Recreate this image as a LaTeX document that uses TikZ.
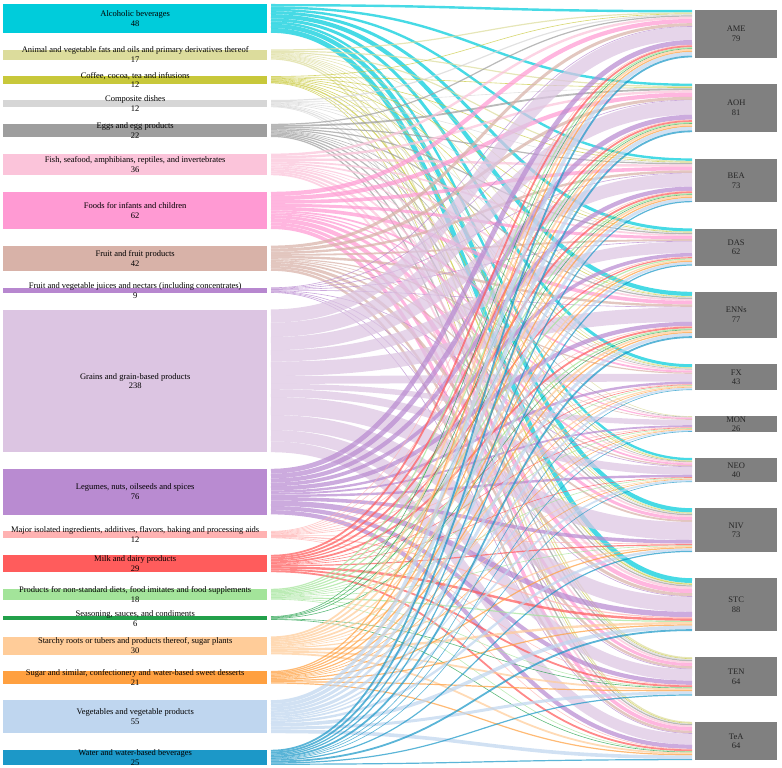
\documentclass[tikz,border=0pt]{standalone}
\usepackage{fontspec}
\setmainfont{Liberation Serif}
\definecolor{c0}{HTML}{00CCDB}
\definecolor{c1}{HTML}{DCDC9C}
\definecolor{c2}{HTML}{C8C83A}
\definecolor{c3}{HTML}{D6D6D6}
\definecolor{c4}{HTML}{9E9E9E}
\definecolor{c5}{HTML}{FBC4DA}
\definecolor{c6}{HTML}{FF9AD3}
\definecolor{c7}{HTML}{D8B2A8}
\definecolor{c8}{HTML}{B787CF}
\definecolor{c9}{HTML}{DCC5E2}
\definecolor{c10}{HTML}{B98BD1}
\definecolor{c11}{HTML}{FFB2B2}
\definecolor{c12}{HTML}{FF5C5C}
\definecolor{c13}{HTML}{A3E49A}
\definecolor{c14}{HTML}{22A04A}
\definecolor{c15}{HTML}{FFCC99}
\definecolor{c16}{HTML}{FFA040}
\definecolor{c17}{HTML}{BFD6EF}
\definecolor{c18}{HTML}{1C98C8}
\definecolor{rgray}{HTML}{808080}
\tikzset{
  lbar/.style={rectangle, draw=none, inner sep=0pt, minimum width=264pt, anchor=north west},
  rbar/.style={rectangle, draw=none, fill=rgray, inner sep=0pt, minimum width=82pt, anchor=north west},
  ltxt/.style={font=\fontsize{8.5}{9.8}\selectfont, align=center, inner sep=0pt, text=black},
  rtxt/.style={font=\fontsize{8.5}{9.8}\selectfont, align=center, inner sep=0pt, text=black!85},
  flow/.style={opacity=.72}
}
\def\M{{4,4,4,5,7,5,0,4,7,8,0,0,
2,2,2,1,1,1,1,1,1,1,2,2,
1,1,1,1,1,1,0,1,1,2,1,1,
2,1,1,1,1,1,0,0,1,1,2,1,
2,3,2,2,2,1,1,1,2,2,2,2,
4,4,4,3,3,2,1,2,3,4,3,3,
7,7,6,5,6,3,2,3,5,7,5,6,
5,5,4,3,4,2,1,2,3,5,4,4,
1,1,1,1,1,0,0,1,0,1,1,1,
22,24,22,19,24,13,9,13,30,25,19,18,
8,8,7,6,7,4,3,4,6,9,7,7,
1,1,1,1,1,1,1,0,1,2,1,1,
3,3,3,2,3,1,1,1,2,4,3,3,
2,2,2,2,2,1,1,1,1,2,1,1,
1,1,1,0,1,0,0,0,0,0,1,1,
3,3,3,2,3,2,1,1,2,4,3,3,
2,2,2,2,2,1,1,1,2,2,2,2,
6,6,5,4,5,3,2,3,4,6,5,6,
3,3,2,2,3,1,1,1,2,3,2,2}}
\def\LT{{4,49.4,76.2,100,123.8,153.6,191.8,245.6,287.4,309.4,468.8,531,554.8,588.8,616.2,636.4,671,700.2,749.8}}
\begin{document}
\begin{tikzpicture}[x=1pt,y=-1pt]
\useasboundingbox (0,0) rectangle (782,768);
% target offsets
\foreach \jj/\tp in {0/10,1/83.6,2/158.4,3/228.4,4/291.8,5/364.2,6/416.2,7/458,8/508.2,9/578.2,10/657.2,11/721.8}{
  \expandafter\xdef\csname tof\jj\endcsname{\tp}}
% flows
\foreach \i in {0,...,18}{
  \pgfmathsetmacro\st{\LT[\i]}
  \xdef\srcoff{\st}
  \foreach \j in {0,...,11}{
    \pgfmathsetmacro\vv{\M[\i*12+\j]}
    \ifdim\vv pt>0pt
      \edef\cur{\csname tof\j\endcsname}
      \pgfmathsetmacro\ww{0.6*\vv}
      \pgfmathsetmacro\sy{\srcoff+\ww/2}
      \pgfmathsetmacro\ty{\cur+\ww/2}
      \coordinate (s\i-\j) at (271,\sy);
      \coordinate (t\i-\j) at (692,\ty);
      \draw[flow, line width=\ww pt, draw=c\i] (s\i-\j) .. controls +(210.5,0) and +(-210.5,0) .. (t\i-\j);
      \pgfmathsetmacro\nso{\srcoff+\ww}\xdef\srcoff{\nso}
      \pgfmathsetmacro\nto{\cur+\ww}\expandafter\xdef\csname tof\j\endcsname{\nto}
    \fi
  }
}
% left nodes
\node[lbar, fill=c0, minimum height=28.8pt] (L0) at (3,4) {};
\node[lbar, fill=c1, minimum height=10.2pt] (L1) at (3,49.4) {};
\node[lbar, fill=c2, minimum height=7.2pt] (L2) at (3,76.2) {};
\node[lbar, fill=c3, minimum height=7.2pt] (L3) at (3,100) {};
\node[lbar, fill=c4, minimum height=13.2pt] (L4) at (3,123.8) {};
\node[lbar, fill=c5, minimum height=21.6pt] (L5) at (3,153.6) {};
\node[lbar, fill=c6, minimum height=37.2pt] (L6) at (3,191.8) {};
\node[lbar, fill=c7, minimum height=25.2pt] (L7) at (3,245.6) {};
\node[lbar, fill=c8, minimum height=5.4pt] (L8) at (3,287.4) {};
\node[lbar, fill=c9, minimum height=142.8pt] (L9) at (3,309.4) {};
\node[lbar, fill=c10, minimum height=45.6pt] (L10) at (3,468.8) {};
\node[lbar, fill=c11, minimum height=7.2pt] (L11) at (3,531) {};
\node[lbar, fill=c12, minimum height=17.4pt] (L12) at (3,554.8) {};
\node[lbar, fill=c13, minimum height=10.8pt] (L13) at (3,588.8) {};
\node[lbar, fill=c14, minimum height=3.6pt] (L14) at (3,616.2) {};
\node[lbar, fill=c15, minimum height=18pt] (L15) at (3,636.4) {};
\node[lbar, fill=c16, minimum height=12.6pt] (L16) at (3,671) {};
\node[lbar, fill=c17, minimum height=33pt] (L17) at (3,700.2) {};
\node[lbar, fill=c18, minimum height=15pt] (L18) at (3,749.8) {};
\node[ltxt] (T0) at (L0.center) {Alcoholic beverages\\48};
\node[ltxt] (T1) at (L1.center) {Animal and vegetable fats and oils and primary derivatives thereof\\17};
\node[ltxt] (T2) at (L2.center) {Coffee, cocoa, tea and infusions\\12};
\node[ltxt] (T3) at (L3.center) {Composite dishes\\12};
\node[ltxt] (T4) at (L4.center) {Eggs and egg products\\22};
\node[ltxt] (T5) at (L5.center) {Fish, seafood, amphibians, reptiles, and invertebrates\\36};
\node[ltxt] (T6) at (L6.center) {Foods for infants and children\\62};
\node[ltxt] (T7) at (L7.center) {Fruit and fruit products\\42};
\node[ltxt] (T8) at (L8.center) {Fruit and vegetable juices and nectars (including concentrates)\\9};
\node[ltxt] (T9) at (L9.center) {Grains and grain-based products\\238};
\node[ltxt] (T10) at (L10.center) {Legumes, nuts, oilseeds and spices\\76};
\node[ltxt] (T11) at (L11.center) {Major isolated ingredients, additives, flavors, baking and processing aids\\12};
\node[ltxt] (T12) at (L12.center) {Milk and dairy products\\29};
\node[ltxt] (T13) at (L13.center) {Products for non-standard diets, food imitates and food supplements\\18};
\node[ltxt] (T14) at (L14.center) {Seasoning, sauces, and condiments\\6};
\node[ltxt] (T15) at (L15.center) {Starchy roots or tubers and products thereof, sugar plants\\30};
\node[ltxt] (T16) at (L16.center) {Sugar and similar, confectionery and water-based sweet desserts\\21};
\node[ltxt] (T17) at (L17.center) {Vegetables and vegetable products\\55};
\node[ltxt] (T18) at (L18.center) {Water and water-based beverages\\25};
% right nodes
\node[rbar, minimum height=47.4pt] (R0) at (695,10) {};
\node[rbar, minimum height=48.6pt] (R1) at (695,83.6) {};
\node[rbar, minimum height=43.8pt] (R2) at (695,158.4) {};
\node[rbar, minimum height=37.2pt] (R3) at (695,228.4) {};
\node[rbar, minimum height=46.2pt] (R4) at (695,291.8) {};
\node[rbar, minimum height=25.8pt] (R5) at (695,364.2) {};
\node[rbar, minimum height=15.6pt] (R6) at (695,416.2) {};
\node[rbar, minimum height=24pt] (R7) at (695,458) {};
\node[rbar, minimum height=43.8pt] (R8) at (695,508.2) {};
\node[rbar, minimum height=52.8pt] (R9) at (695,578.2) {};
\node[rbar, minimum height=38.4pt] (R10) at (695,657.2) {};
\node[rbar, minimum height=38.4pt] (R11) at (695,721.8) {};
\node[rtxt] (U0) at (R0.center) {AME\\79};
\node[rtxt] (U1) at (R1.center) {AOH\\81};
\node[rtxt] (U2) at (R2.center) {BEA\\73};
\node[rtxt] (U3) at (R3.center) {DAS\\62};
\node[rtxt] (U4) at (R4.center) {ENNs\\77};
\node[rtxt] (U5) at (R5.center) {FX\\43};
\node[rtxt] (U6) at (R6.center) {MON\\26};
\node[rtxt] (U7) at (R7.center) {NEO\\40};
\node[rtxt] (U8) at (R8.center) {NIV\\73};
\node[rtxt] (U9) at (R9.center) {STC\\88};
\node[rtxt] (U10) at (R10.center) {TEN\\64};
\node[rtxt] (U11) at (R11.center) {TeA\\64};
\end{tikzpicture}
\end{document}
